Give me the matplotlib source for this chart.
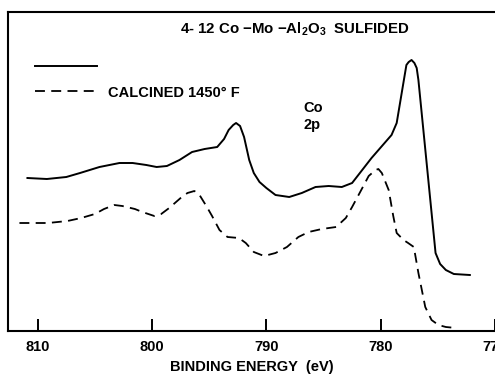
import numpy as np
import matplotlib
matplotlib.use("Agg")
from matplotlib import pyplot as plt
from matplotlib.lines import Line2D

plt.rcParams['font.family'] = ['Liberation Sans', 'DejaVu Sans']
plt.rcParams['font.weight'] = 'bold'
plt.rcParams['mathtext.fontset'] = 'custom'
plt.rcParams['mathtext.rm'] = 'Liberation Sans:bold'
plt.rcParams['mathtext.default'] = 'rm'

# sulfided sample (solid), binding energy (eV) vs intensity (arb.)
e_sulf = [810.9, 809.2, 807.5, 806.3, 804.6, 802.85, 801.7, 800.5, 799.6, 798.7,
          797.6, 796.5, 795.4, 794.3, 793.7, 793.3, 792.9, 792.65, 792.3, 791.95,
          791.5, 791.1, 790.6, 790.0, 789.2, 788.0, 786.9, 785.7, 784.55, 783.4,
          782.5, 780.8, 779.05, 778.6, 778.0, 777.75, 777.55, 777.3, 777.05, 776.85,
          776.7, 775.2, 774.8, 774.3, 773.6, 772.2]
i_sulf = [153, 152, 154, 158, 164, 168, 168, 166, 164, 165,
          171, 179, 182, 184, 192, 201, 206, 208, 205, 194,
          171, 158, 149, 143, 136, 134, 138, 144, 145, 144,
          148, 173, 196, 208, 249, 266, 269, 271, 268, 263,
          251, 78, 67, 61, 57, 56]

# calcined 1450 F sample (dashed)
e_calc = [811.6, 809.1, 807.4, 806.2, 805.0, 804.2, 803.3, 802.6, 801.5, 800.85,
          799.8, 799.2, 798.5, 797.4, 796.9, 796.3, 795.9, 795.2, 794.75, 794.1,
          793.4, 792.4, 791.8, 791.1, 790.2, 789.2, 788.2, 787.2, 786.3, 785.15,
          783.9, 783.05, 782.5, 781.7, 781.05, 780.45, 780.2, 779.9, 779.3, 778.9,
          778.6, 778.0, 777.6, 777.1, 776.7, 776.1, 775.55, 774.95, 774.3, 773.4]
i_calc = [108, 108, 110, 113, 117, 122, 126, 125, 122, 119,
          115, 117, 123, 134, 138, 140, 137, 124, 115, 101,
          94, 93, 88, 79, 75, 78, 84, 94, 99, 102,
          104, 113, 124, 141, 155, 161, 162, 158, 141, 115,
          98, 91, 88, 84, 58, 24, 11, 6, 4, 3]

xticks = [810, 800, 790, 780, 770]

fig = plt.figure(figsize=(4.95, 3.74), dpi=100)
ax = fig.add_axes([8 / 495, 43 / 374, 1 - 8 / 495, 319 / 374])

ax.plot(e_sulf, i_sulf, color='black', lw=1.4, solid_joinstyle='round')
ax.plot(e_calc, i_calc, color='black', lw=1.3, dashes=(5.5, 3.5))

ax.set_xlim(812.6, 770.15)
ax.set_ylim(0, 319)
ax.set_xticks(xticks)
ax.set_xticklabels([str(t) for t in xticks], fontsize=10.5, fontweight='bold')
ax.set_yticks([])
ax.tick_params(axis='x', direction='in', length=9, width=1.4, pad=6.5)
for s in ['left', 'bottom', 'top']:
    ax.spines[s].set_linewidth(1.5)
ax.spines['right'].set_visible(False)
ax.set_xlabel('BINDING ENERGY  (eV)', fontsize=10.5, fontweight='bold', labelpad=4)

ax.text(0.589, 0.947, r'4- 12 Co $-$Mo $-$Al$_2$O$_3$  SULFIDED', transform=ax.transAxes,
        ha='center', va='center', fontsize=10.8, fontweight='bold')
ax.text(0.606, 0.699, 'Co', transform=ax.transAxes, ha='left', va='center',
        fontsize=10.5, fontweight='bold')
ax.text(0.606, 0.646, '2p', transform=ax.transAxes, ha='left', va='center',
        fontsize=10.5, fontweight='bold')

handles = [Line2D([], [], color='black', lw=1.4),
           Line2D([], [], color='black', lw=1.3, dashes=(5.5, 3.5))]
ax.legend(handles, [' ', 'CALCINED 1450° F'], loc='upper left',
          bbox_to_anchor=(0.055, 0.85), frameon=False, handlelength=4.25,
          handletextpad=0.75, labelspacing=0.8, borderpad=0, borderaxespad=0,
          prop={'size': 10.5, 'weight': 'bold'})

fig.savefig('out.png', dpi=100, facecolor='white')
